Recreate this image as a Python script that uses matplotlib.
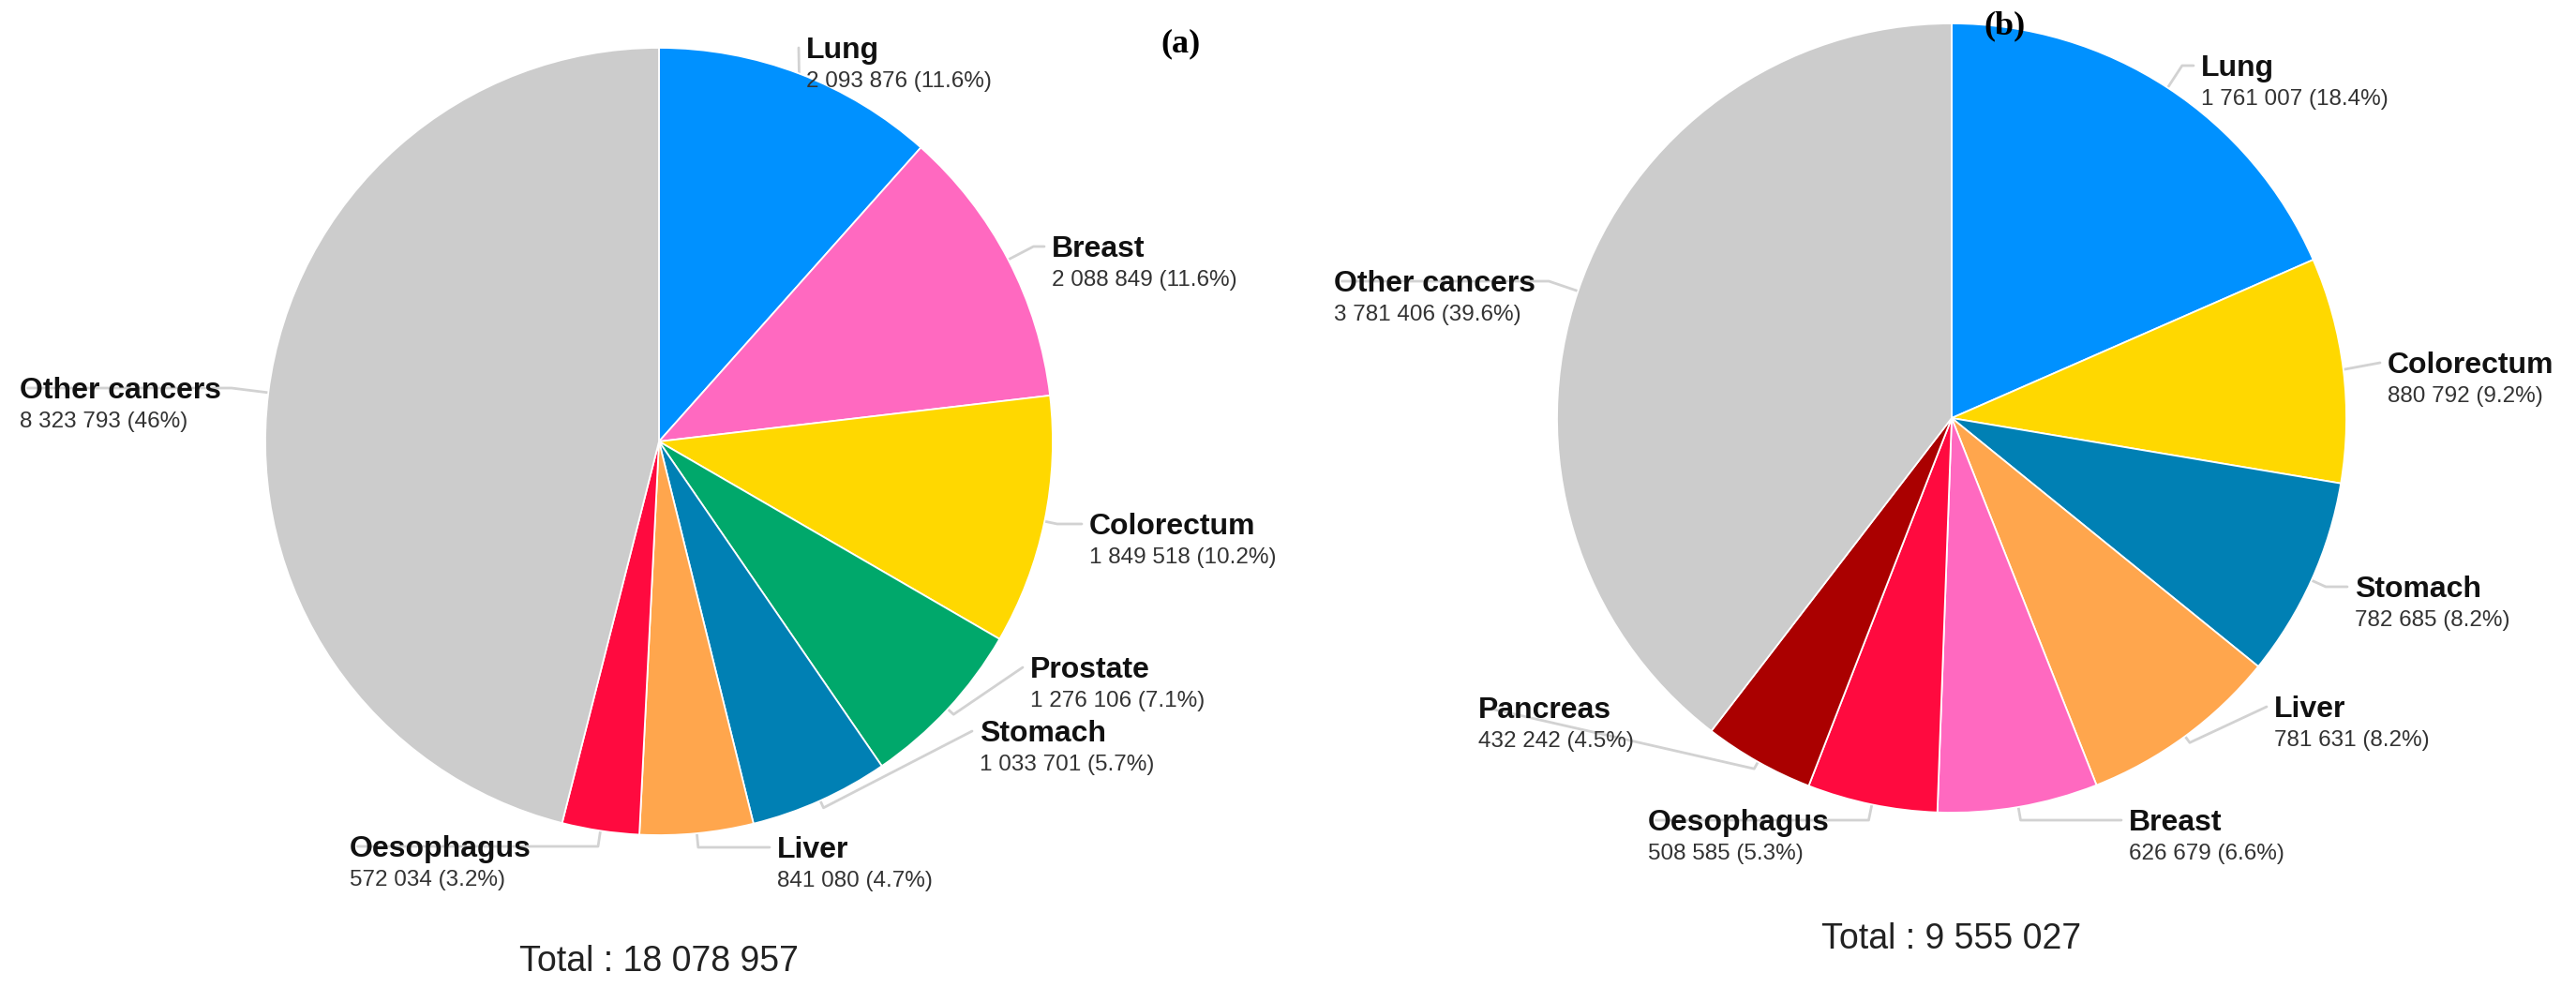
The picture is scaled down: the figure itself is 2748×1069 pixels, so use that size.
import numpy as np
import matplotlib.pyplot as plt

plt.rcParams['font.family'] = ['Liberation Sans', 'DejaVu Sans']

# (a) new cases
inc_labels = ["Lung", "Breast", "Colorectum", "Prostate", "Stomach", "Liver",
              "Oesophagus", "Other cancers"]
inc_values = [2093876, 2088849, 1849518, 1276106, 1033701, 841080, 572034, 8323793]

# (b) deaths
mort_labels = ["Lung", "Colorectum", "Stomach", "Liver", "Breast", "Oesophagus",
               "Pancreas", "Other cancers"]
mort_values = [1761007, 880792, 782685, 781631, 626679, 508585, 432242, 3781406]

site_colors = {
    "Lung": "#0091ff",
    "Breast": "#ff69c0",
    "Colorectum": "#ffd800",
    "Prostate": "#00a86b",
    "Stomach": "#0080b4",
    "Liver": "#ffa64d",
    "Oesophagus": "#ff0a3f",
    "Pancreas": "#aa0000",
    "Other cancers": "#cccccc",
}

W, H = 2748, 1069

# label anchors in pixels (left edge of text, centre of the name line), side of the pie
inc_pos = [(860, 51, 'r'), (1122, 263, 'r'), (1162, 559, 'r'), (1099, 712, 'r'),
           (1045, 780, 'r'), (829, 904, 'r'), (373, 903, 'l'), (21, 414, 'l')]
mort_pos = [(2348, 70, 'r'), (2547, 387, 'r'), (2512, 626, 'r'), (2426, 754, 'r'),
            (2271, 875, 'r'), (1758, 875, 'l'), (1577, 755, 'l'), (1423, 300, 'l')]


def fmt(v):
    return f"{v:,}".replace(",", " ")


def pct(v, total):
    s = f"{100 * v / total:.1f}"
    if s.endswith(".0"):
        s = s[:-2]
    return s


fig = plt.figure(figsize=(W / 100, H / 100), dpi=100)
ax = fig.add_axes([0, 0, 1, 1])


def draw_panel(labels, values, center, radius, positions, tag, tag_xy):
    cx, cy = center[0], H - center[1]
    colors = [site_colors[l] for l in labels]
    wedges, _ = ax.pie(values, colors=colors, startangle=90, counterclock=False,
                       center=(cx, cy), radius=radius,
                       wedgeprops=dict(edgecolor='white', linewidth=1.3))
    total = sum(values)
    fig.canvas.draw()
    renderer = fig.canvas.get_renderer()
    for w, lab, val, (lx, ly, side) in zip(wedges, labels, values, positions):
        t = ax.text(lx, H - ly - 11, lab, fontsize=23, fontweight='bold',
                    color='#111111', ha='left', va='baseline')
        ax.text(lx, H - ly - 34 - 8, f"{fmt(val)} ({pct(val, total)}%)",
                fontsize=17.5, color='#333333', ha='left', va='baseline')
        # connector: radial out from the wedge, then to the label
        mid = np.deg2rad((w.theta1 + w.theta2) / 2)
        d = np.array([np.cos(mid), np.sin(mid)])
        p0 = np.array([cx, cy]) + radius * d
        yname = H - ly
        if abs(d[1]) > 1e-3:
            r = (yname - cy) / d[1]
        else:
            r = radius * 1.05
        r = min(max(r, radius * 1.02), radius * 1.12)
        p1 = np.array([cx, cy]) + r * d
        bb = t.get_window_extent(renderer).transformed(ax.transData.inverted())
        if side == 'r':
            end_x = bb.x0 - 8
            if p1[0] > end_x:
                p1 = p0
        else:
            end_x = bb.x1 + 8
            if p1[0] < end_x:
                p1 = p0
        ax.plot([p0[0], p1[0], end_x], [p0[1], p1[1], yname], color='#d2d2d2',
                lw=2, solid_capstyle='round', solid_joinstyle='round', zorder=0)
    ax.text(center[0], H - center[1] - radius - 135, f"Total : {fmt(total)}",
            fontsize=27, color='#222222', ha='center', va='center')
    ax.text(tag_xy[0], H - tag_xy[1], tag, family='Liberation Serif',
            fontweight='bold', fontsize=26, ha='center', va='center')


draw_panel(inc_labels, inc_values, (703, 471), 420, inc_pos, '(a)', (1259, 47))
draw_panel(mort_labels, mort_values, (2082, 446), 421, mort_pos, '(b)', (2138, 28))

ax.set_xlim(0, W)
ax.set_ylim(0, H)
ax.set_aspect('auto')
ax.axis('off')

fig.savefig('out.png', dpi=100, facecolor='white')
